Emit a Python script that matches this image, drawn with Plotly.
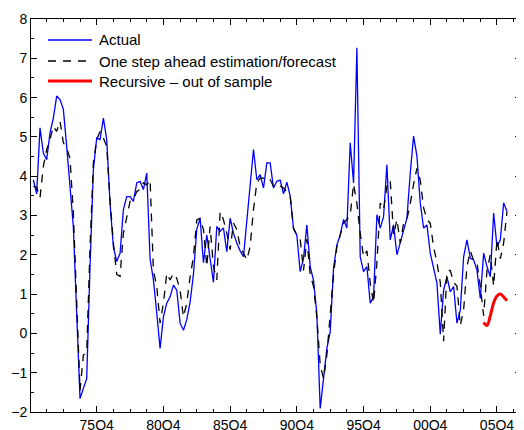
import plotly.graph_objects as go

# quarter index k: 0 = 71Q1
quarters = list(range(143))

actual = [3.91, 3.55, 5.23, 4.59, 4.42, 5.10, 5.48, 6.04, 5.95, 5.70,
          4.76, 3.75, 2.70, 0.50, -1.66, -1.40, -1.15, 1.70, 4.17, 4.97,
          4.93, 5.48, 4.93, 3.30, 2.20, 1.83, 2.04, 3.15, 3.48, 3.48,
          3.36, 3.83, 3.87, 3.66, 4.08, 1.90, 1.36, 0.52, -0.38, 0.42,
          0.77, 0.93, 1.23, 1.10, 0.26, 0.08, 0.35, 0.80, 1.50, 2.65,
          2.93, 1.80, 2.50, 1.90, 1.30, 2.72, 2.60, 2.68, 2.08, 2.93,
          2.55, 2.30, 2.10, 1.95, 2.89, 3.83, 4.68, 3.91, 4.04, 3.70,
          4.34, 4.34, 3.70, 3.87, 3.90, 3.55, 3.85, 3.50, 2.66, 2.50,
          1.57, 1.91, 2.76, 1.70, 1.35, 0.50, -1.91, -1.15, -0.38, 0.04,
          1.66, 2.25, 2.50, 2.90, 2.68, 4.85, 3.83, 7.27, 1.95, 1.57,
          1.70, 0.77, 0.93, 3.02, 2.68, 2.97, 4.29, 2.38, 2.76, 2.00,
          2.30, 2.59, 2.93, 4.08, 5.02, 4.51, 3.32, 2.68, 2.76, 2.04,
          1.66, 1.28, -0.02, 1.10, 1.44, 1.06, 1.19, 0.26, 0.59, 1.95,
          2.38, 1.91, 1.87, 1.61, 0.89, 2.04, 1.70, 1.44, 3.06, 2.21,
          2.38, 3.32, 3.10]

one_step = [3.74, 3.72, 3.45, 4.25, 4.68, 4.93, 5.27, 5.14, 5.40, 4.85,
            4.72, 4.45, 3.06, 1.00, -1.45, -0.55, -0.50, 2.21, 4.34, 4.93,
            5.14, 4.97, 4.76, 3.40, 2.30, 1.50, 1.45, 2.55, 2.97, 3.36,
            3.40, 3.61, 3.66, 3.83, 3.78, 3.91, 1.61, 1.19, 0.26, 0.77,
            1.53, 1.36, 1.53, 1.40, 1.10, 0.42, 0.77, 1.44, 1.95, 2.89,
            2.93, 2.64, 1.70, 2.72, 1.70, 1.36, 3.10, 2.89, 2.55, 2.13,
            2.81, 2.64, 2.21, 2.04, 1.87, 2.21, 3.15, 3.83, 3.95, 3.95,
            3.87, 3.91, 3.74, 3.78, 3.75, 3.70, 3.60, 3.50, 2.68, 2.50,
            2.40, 1.60, 2.40, 1.50, 1.20, 0.40, -0.80, -1.15, -0.55, 0.40,
            1.50, 2.20, 2.50, 2.80, 2.90, 3.00, 3.80, 3.30, 2.55, 1.95,
            2.10, 1.28, 0.77, 1.79, 3.32, 3.15, 3.74, 3.90, 2.50, 2.90,
            2.30, 2.80, 2.90, 3.30, 3.80, 4.20, 3.90, 3.20, 2.90, 2.80,
            2.20, 1.80, 1.30, -0.20, 1.60, 1.60, 1.30, 1.20, 0.20, 0.60,
            1.70, 2.10, 1.85, 1.80, 1.20, 0.45, 1.60, 2.00, 1.20, 2.40,
            1.90, 2.30, 3.10]

recursive_q = [135, 136, 137, 138, 139, 140, 141, 142]
recursive = [0.28, 0.20, 0.45, 0.78, 0.95, 1.00, 0.93, 0.83]

tick_q = [19, 39, 59, 79, 99, 119, 139]
tick_labels = ["75Q4", "80Q4", "85Q4", "90Q4", "95Q4", "00Q4", "05Q4"]
y_ticks = [-2, -1, 0, 1, 2, 3, 4, 5, 6, 7, 8]
y_labels = ["\u22122", "\u22121", "0", "1", "2", "3", "4", "5", "6", "7", "8"]

legend_names = ["Actual", "One step ahead estimation/forecast",
                "Recursive \u2013 out of sample"]

FONT = "Liberation Sans, Arial, Helvetica, sans-serif"
styles = [dict(color="#0000ff", width=1.3),
          dict(color="#000000", width=1.3, dash="8px,7px"),
          dict(color="#ff0000", width=3)]

fig = go.Figure()
fig.add_trace(go.Scatter(x=quarters, y=actual, mode="lines", name=legend_names[0],
                         line=styles[0], showlegend=False))
fig.add_trace(go.Scatter(x=quarters, y=one_step, mode="lines", name=legend_names[1],
                         line=styles[1], showlegend=False))
fig.add_trace(go.Scatter(x=recursive_q, y=recursive, mode="lines", name=legend_names[2],
                         line=dict(styles[2], shape="spline"), showlegend=False))

# legend drawn in paper coordinates
row_y = [0.9466, 0.8931, 0.8422]
for name, st, yy in zip(legend_names, styles, row_y):
    fig.add_shape(type="line", xref="paper", yref="paper",
                  x0=0.0347, x1=0.1245, y0=yy, y1=yy, line=st)
    fig.add_annotation(xref="paper", yref="paper", x=0.134, y=yy, text=name,
                       showarrow=False, xanchor="left", yanchor="middle",
                       font=dict(size=15, family=FONT, color="black"))

# the page body adds an 8px offset, so the figure is 8px smaller and margins shifted
fig.update_layout(
    width=516, height=422,
    margin=dict(l=23, r=3, t=11, b=18, autoexpand=False),
    paper_bgcolor="white", plot_bgcolor="white",
    font=dict(family=FONT, color="black", size=14),
    showlegend=False,
)
fig.update_xaxes(
    range=[-0.7, 146.2], tickmode="array", tickvals=tick_q, ticktext=tick_labels,
    automargin=False,
    ticks="inside", ticklen=6, tickcolor="black", showgrid=False, zeroline=False,
    showline=True, linecolor="black", linewidth=1, mirror="ticks",
    tickfont=dict(size=14, family=FONT),
    minor=dict(ticks="inside", ticklen=3, dtick=5, tick0=19, tickcolor="black", showgrid=False),
)
fig.update_yaxes(
    range=[-2, 8], tickmode="array", tickvals=y_ticks, ticktext=y_labels,
    automargin=False,
    ticks="inside", ticklen=6, tickcolor="black", showgrid=False, zeroline=False,
    showline=True, linecolor="black", linewidth=1, mirror="ticks",
    tickfont=dict(size=14, family=FONT),
    minor=dict(ticks="inside", ticklen=3, dtick=0.5, tick0=0, tickcolor="black", showgrid=False),
)

fig.write_html("out.html")
